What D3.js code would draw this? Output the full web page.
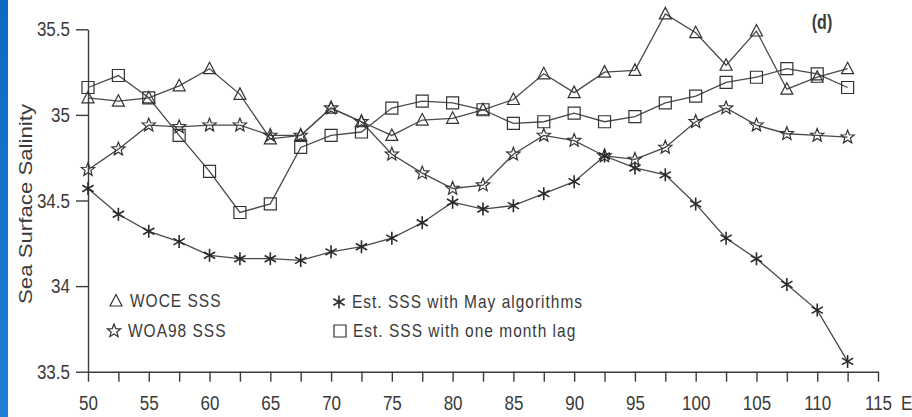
<!DOCTYPE html>
<html>
<head>
<meta charset="utf-8">
<script src="https://cdn.jsdelivr.net/npm/d3@7/dist/d3.min.js"></script>
<style>
  html, body { margin: 0; padding: 0; background: #fff; }
  svg { display: block; }
  text { font-family: "Liberation Sans", Arial, Helvetica, sans-serif; fill: #3a3a3a; }
</style>
</head>
<body>
<svg id="chart" width="912" height="417"></svg>
<script>
// Longitude of each section station (degrees E)
const longitudes = [50, 52.5, 55, 57.5, 60, 62.5, 65, 67.5, 70, 72.5, 75, 77.5, 80,
                    82.5, 85, 87.5, 90, 92.5, 95, 97.5, 100, 102.5, 105, 107.5, 110, 112.5];

// Sea surface salinity along the section
const wocеSSS = [35.10, 35.08, 35.10, 35.17, 35.27, 35.12, 34.86, 34.88, 35.04, 34.96, 34.88, 34.97, 34.98,
                 35.03, 35.09, 35.24, 35.13, 35.25, 35.26, 35.59, 35.48, 35.29, 35.49, 35.15, 35.22, 35.27];
const woa98SSS = [34.68, 34.80, 34.94, 34.93, 34.94, 34.94, 34.88, 34.88, 35.04, 34.96, 34.77, 34.66, 34.57,
                  34.59, 34.77, 34.88, 34.85, 34.76, 34.74, 34.81, 34.96, 35.04, 34.94, 34.89, 34.88, 34.87];
const estMaySSS = [34.57, 34.42, 34.32, 34.26, 34.18, 34.16, 34.16, 34.15, 34.20, 34.23, 34.28, 34.37, 34.49,
                   34.45, 34.47, 34.54, 34.61, 34.76, 34.69, 34.65, 34.48, 34.28, 34.16, 34.01, 33.86, 33.56];
const estLagSSS = [35.16, 35.23, 35.10, 34.88, 34.67, 34.43, 34.48, 34.81, 34.88, 34.90, 35.04, 35.08, 35.07,
                   35.03, 34.95, 34.96, 35.01, 34.96, 34.99, 35.07, 35.11, 35.19, 35.22, 35.27, 35.24, 35.16];

// Axis ticks and labels
const yTicks = [33.5, 34, 34.5, 35, 35.5];
const yTickLabels = ["33.5", "34", "34.5", "35", "35.5"];
const xTicks = [50, 52.5, 55, 57.5, 60, 62.5, 65, 67.5, 70, 72.5, 75, 77.5, 80, 82.5,
                85, 87.5, 90, 92.5, 95, 97.5, 100, 102.5, 105, 107.5, 110, 112.5, 115];
const xLabelValues = [50, 55, 60, 65, 70, 75, 80, 85, 90, 95, 100, 105, 110, 115];
const xTickLabels = ["50", "55", "60", "65", "70", "75", "80", "85", "90", "95", "100", "105", "110", "115"];
const xUnit = "E";
const yTitle = "Sea Surface Salinity";
const panelTag = "(d)";

const seriesNames = ["WOCE SSS", "WOA98 SSS", "Est. SSS with May algorithms", "Est. SSS with one month lag"];
const seriesMarkers = ["triangle", "star", "asterisk", "square"];
const seriesValues = [wocеSSS, woa98SSS, estMaySSS, estLagSSS];

const svg = d3.select("#chart");

// blue slide edge on the left
const defs = svg.append("defs");
const grad = defs.append("linearGradient").attr("id", "edge").attr("x1", 0).attr("y1", 0).attr("x2", 0).attr("y2", 1);
grad.append("stop").attr("offset", "0%").attr("stop-color", "#0a6bc4");
grad.append("stop").attr("offset", "100%").attr("stop-color", "#1b80d6");
svg.append("rect").attr("x", 0).attr("y", 0).attr("width", 8).attr("height", 417).attr("fill", "url(#edge)");

const x = d3.scaleLinear().domain([50, 115]).range([88, 878]);
const y = d3.scaleLinear().domain([33.5, 35.5]).range([371.7, 29.3]);

const ink = "#3c3c3c";
const VSTRETCH = 1.23;

// Y axis
const yAxis = svg.append("g").attr("transform", `translate(${x(50)},0)`)
  .call(d3.axisLeft(y).tickValues(yTicks).tickSize(12).tickSizeOuter(0)
    .tickFormat((d, i) => yTickLabels[i]));
yAxis.select(".domain").attr("stroke", ink).attr("stroke-width", 1.4);
yAxis.selectAll(".tick line").attr("stroke", ink).attr("stroke-width", 1.4);
yAxis.selectAll(".tick text")
  .attr("x", null).attr("dy", null)
  .attr("text-anchor", "end")
  .attr("font-size", 17)
  .attr("transform", `translate(-18,6.5) scale(1,${VSTRETCH})`);

// X axis
const xAxis = svg.append("g").attr("transform", `translate(0,${y(33.5)})`)
  .call(d3.axisBottom(x).tickValues(xTicks).tickSize(10).tickSizeOuter(0)
    .tickFormat(d => { const k = xLabelValues.indexOf(d); return k >= 0 ? xTickLabels[k] : ""; }));
xAxis.select(".domain").attr("stroke", ink).attr("stroke-width", 1.4);
xAxis.selectAll(".tick line").attr("stroke", ink).attr("stroke-width", 1.4);
xAxis.selectAll(".tick text")
  .attr("y", null).attr("dy", null)
  .attr("font-size", 17)
  .attr("transform", `translate(0,38) scale(1,${VSTRETCH})`);

svg.append("text")
  .attr("font-size", 17)
  .attr("transform", `translate(${x(115) + 23},${y(33.5) + 38}) scale(1,${VSTRETCH})`)
  .text(xUnit);

// Y title
svg.append("text")
  .attr("font-size", 17.5)
  .attr("text-anchor", "middle")
  .attr("transform", `translate(32,204) rotate(-90) scale(1.27,1)`)
  .text(yTitle);

// Panel tag
svg.append("text")
  .attr("font-size", 16)
  .attr("font-weight", "bold")
  .attr("text-anchor", "middle")
  .attr("fill", "#222")
  .attr("transform", `translate(822,29) scale(1,${VSTRETCH})`)
  .text(panelTag);

// Marker drawing
function starPath(ro, ri) {
  const pts = [];
  for (let k = 0; k < 10; k++) {
    const r = k % 2 === 0 ? ro : ri;
    const a = -Math.PI / 2 + k * Math.PI / 5;
    pts.push([r * Math.cos(a), r * Math.sin(a)]);
  }
  return "M" + pts.map(p => p[0].toFixed(2) + "," + p[1].toFixed(2)).join("L") + "Z";
}
function asteriskPath(r) {
  let d = "";
  for (let k = 0; k < 3; k++) {
    const a = Math.PI / 2 + k * Math.PI / 3;
    const dx = r * Math.cos(a), dy = r * Math.sin(a);
    d += `M${(-dx).toFixed(2)},${(-dy).toFixed(2)}L${dx.toFixed(2)},${dy.toFixed(2)}`;
  }
  return d;
}
const markerPaths = {
  triangle: "M0,-6.5L6,5L-6,5Z",
  square: "M-6,-6H6V6H-6Z",
  star: starPath(7, 3),
  asterisk: asteriskPath(6.5)
};
function drawMarker(g, type) {
  g.append("path")
    .attr("d", markerPaths[type])
    .attr("fill", "none")
    .attr("stroke", type === "asterisk" ? "#2a2a2a" : "#333")
    .attr("stroke-width", type === "asterisk" ? 1.6 : 1.2)
    .attr("stroke-linejoin", "miter");
}

const line = d3.line().x((d, i) => x(longitudes[i])).y(d => y(d));
const plot = svg.append("g");

seriesValues.forEach(vals => {
  plot.append("path").datum(vals)
    .attr("d", line)
    .attr("fill", "none")
    .attr("stroke", "#4a4a4a")
    .attr("stroke-width", 1.3);
});

seriesValues.forEach((vals, s) => {
  plot.append("g").selectAll("g").data(vals).join("g")
    .attr("transform", (d, i) => `translate(${x(longitudes[i])},${y(d)})`)
    .each(function () { drawMarker(d3.select(this), seriesMarkers[s]); });
});

// Legend
const legendPos = [[116, 301], [114, 331], [339, 302], [340, 331]];
seriesNames.forEach((name, s) => {
  const g = svg.append("g").attr("transform", `translate(${legendPos[s][0]},${legendPos[s][1]})`);
  drawMarker(g, seriesMarkers[s]);
  g.append("text")
    .attr("x", 0).attr("y", 0)
    .attr("font-size", 15.5)
    .attr("letter-spacing", 1)
    .attr("transform", `translate(${s < 2 ? 14 : 13},6) scale(1,1.15)`)
    .text(name);
});
</script>
</body>
</html>
